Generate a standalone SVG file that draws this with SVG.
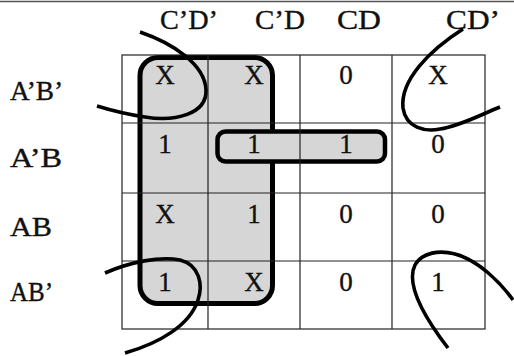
<svg xmlns="http://www.w3.org/2000/svg" width="514" height="356" viewBox="0 0 514 356">
  <style>
    text { font-family: "Liberation Serif", "Times New Roman", serif; font-size: 27px; fill: #111; stroke: #111; stroke-width: 0.35; }
    .cell { text-anchor: middle; }
    .grid { stroke: #222; stroke-width: 1.2; fill: none; }
    .loop { fill: #d6d6d6; stroke: #000; }
    .wrap { fill: none; stroke: #000; stroke-width: 3.6; stroke-linecap: butt; }
  </style>
  <rect width="514" height="356" fill="#fff"/>
  <line x1="0" y1="1.5" x2="514" y2="1.5" stroke="#555" stroke-width="1.5"/>

  <g id="headers">
    <text x="160" y="29" textLength="58" lengthAdjust="spacingAndGlyphs">C’D’</text>
    <text x="255" y="29" textLength="50" lengthAdjust="spacingAndGlyphs">C’D</text>
    <text x="337" y="29" textLength="44" lengthAdjust="spacingAndGlyphs">CD</text>
    <text x="446" y="29" textLength="54" lengthAdjust="spacingAndGlyphs">CD’</text>
  </g>
  <g id="row-labels">
    <text x="10" y="100" textLength="53" lengthAdjust="spacingAndGlyphs">A’B’</text>
    <text x="10" y="167" textLength="52" lengthAdjust="spacingAndGlyphs">A’B</text>
    <text x="10" y="236" textLength="42" lengthAdjust="spacingAndGlyphs">AB</text>
    <text x="10" y="301" textLength="43" lengthAdjust="spacingAndGlyphs">AB’</text>
  </g>

  <g id="group-big">
    <rect class="loop" x="140" y="57.5" width="132.5" height="246" rx="18" stroke-width="5"/>
  </g>
  <g id="group-row">
    <rect class="loop" x="217.5" y="131.5" width="167.5" height="30" rx="8" stroke-width="4.5"/>
  </g>

  <g id="grid">
    <rect class="grid" x="122" y="55" width="363" height="274"/>
    <line class="grid" x1="208" y1="55" x2="208" y2="329"/>
    <line class="grid" x1="300" y1="55" x2="300" y2="329"/>
    <line class="grid" x1="392" y1="55" x2="392" y2="329"/>
    <line class="grid" x1="122" y1="123" x2="485" y2="123"/>
    <line class="grid" x1="122" y1="193" x2="485" y2="193"/>
    <line class="grid" x1="122" y1="261" x2="485" y2="261"/>
  </g>

  <g id="cells">
    <text class="cell" x="165" y="84">X</text>
    <text class="cell" x="254" y="84">X</text>
    <text class="cell" x="346" y="84">0</text>
    <text class="cell" x="438" y="84">X</text>
    <text class="cell" x="165" y="153">1</text>
    <text class="cell" x="254" y="153">1</text>
    <text class="cell" x="346" y="153">1</text>
    <text class="cell" x="438" y="153">0</text>
    <text class="cell" x="165" y="223">X</text>
    <text class="cell" x="254" y="223">1</text>
    <text class="cell" x="346" y="223">0</text>
    <text class="cell" x="438" y="223">0</text>
    <text class="cell" x="165" y="291">1</text>
    <text class="cell" x="254" y="291">X</text>
    <text class="cell" x="346" y="291">0</text>
    <text class="cell" x="438" y="291">1</text>
  </g>

  <g id="connectors">
    <path class="wrap" d="M140,32 C172,43 205,64 206,90 C207,114 175,122 145,117 C125,114 110,110 97,106"/>
    <path class="wrap" d="M463,29 C430,50 400,80 403,108 C406,128 425,132 440,129 C460,126 480,115 500,107"/>
    <path class="wrap" d="M105,273 C130,262 160,256 180,260 C200,265 203,285 198,300 C190,325 160,343 125,353"/>
    <path class="wrap" d="M448,348 C425,318 405,285 415,265 C422,252 440,250 455,254 C478,260 500,282 513,300"/>
  </g>
</svg>
